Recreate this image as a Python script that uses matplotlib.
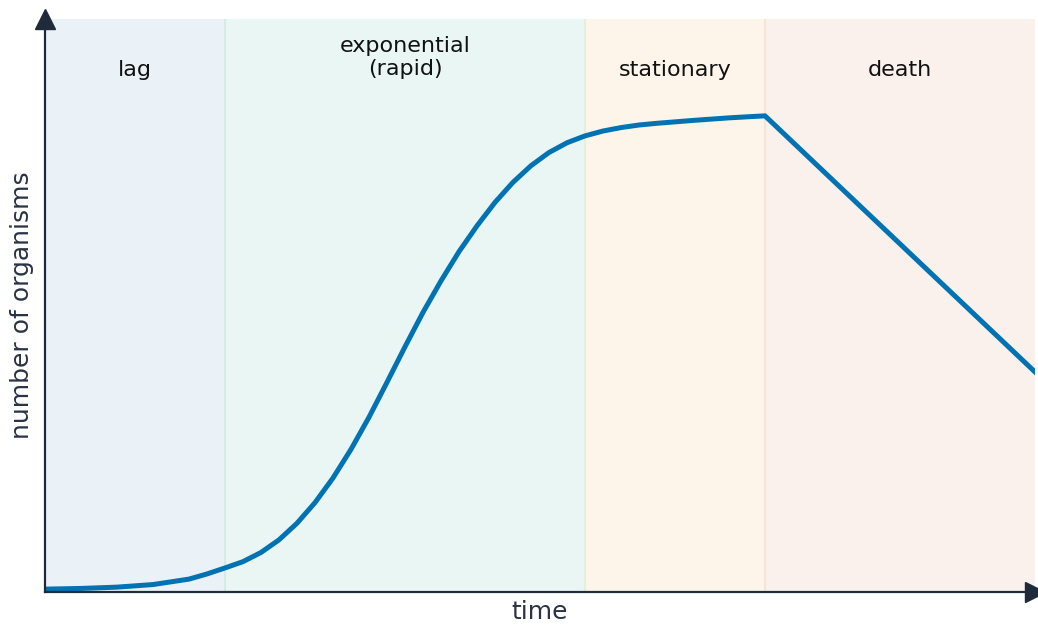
import numpy as np
import matplotlib
matplotlib.use("Agg")
import matplotlib.pyplot as plt

# phases (start, end) in time units
phase_names = ["lag", "exponential\n(rapid)", "stationary", "death"]
phase_start = [0.0, 1.0, 3.0, 4.0]
phase_end = [1.0, 3.0, 4.0, 5.5]
phase_colors = ["#eaf2f8", "#e9f6f3", "#fdf5ea", "#faf1ec"]
edge_colors = ["#d6ebe9", "#e4efdf", "#f4e6d4"]

# growth curve (number of organisms, 0-100 scale)
t = [0.0, 0.2, 0.4, 0.6, 0.8, 0.9, 1.0, 1.1, 1.2, 1.3, 1.4, 1.5, 1.6, 1.7,
     1.8, 1.9, 2.0, 2.1, 2.2, 2.3, 2.4, 2.5, 2.6, 2.7, 2.8, 2.9, 3.0, 3.1,
     3.2, 3.3, 3.4, 3.6, 3.8, 4.0, 5.5]
n = [0.5, 0.62, 0.85, 1.3, 2.25, 3.15, 4.2, 5.3, 6.9, 9.1, 12.0, 15.6, 19.9,
     24.9, 30.5, 36.6, 42.8, 48.8, 54.3, 59.4, 63.9, 68.0, 71.5, 74.4, 76.7,
     78.4, 79.6, 80.45, 81.05, 81.5, 81.8, 82.3, 82.75, 83.1, 38.4]

W, H = 1038, 626
fig = plt.figure(figsize=(W / 100, H / 100), dpi=100)
ax = fig.add_axes([45 / W, 34 / H, 990 / W, 573 / H])
ax.set_xlim(0, 5.5)
ax.set_ylim(0, 100)
ax.axis("off")

for i in range(len(phase_names)):
    ax.axvspan(phase_start[i], phase_end[i], color=phase_colors[i], lw=0, zorder=0)
for i in range(1, len(phase_names)):
    ax.axvline(phase_start[i], color=edge_colors[i - 1], lw=1.5, zorder=1)

ax.plot(t, n, color="#0173b2", lw=3.6, solid_joinstyle="round", zorder=3)

label_y = [91.1, 93.3, 91.1, 91.1]
for i in range(len(phase_names)):
    ax.text((phase_start[i] + phase_end[i]) / 2, label_y[i], phase_names[i],
            ha="center", va="center", fontsize=16, color="#111111",
            linespacing=1.2)

axc = "#1f2a3c"
# axes with arrow heads
ax.plot([0, 1.0], [0, 0], transform=ax.transAxes, color=axc, lw=1.6,
        clip_on=False, zorder=4)
ax.plot([0, 0], [0, 1.0], transform=ax.transAxes, color=axc, lw=1.6,
        clip_on=False, zorder=4)
ax.plot([1.0], [0], transform=ax.transAxes, marker=">", ms=15, color=axc,
        clip_on=False, zorder=5)
ax.plot([0], [1.0], transform=ax.transAxes, marker="^", ms=15, color=axc,
        clip_on=False, zorder=5)

fig.text(540 / W, 1 - 612 / H, "time", ha="center", va="center",
         fontsize=18, color="#2a3344")
fig.text(22 / W, 1 - 305 / H, "number of organisms", ha="center", va="center",
         rotation=90, fontsize=18, color="#2a3344")

fig.savefig("out.png", dpi=100)
